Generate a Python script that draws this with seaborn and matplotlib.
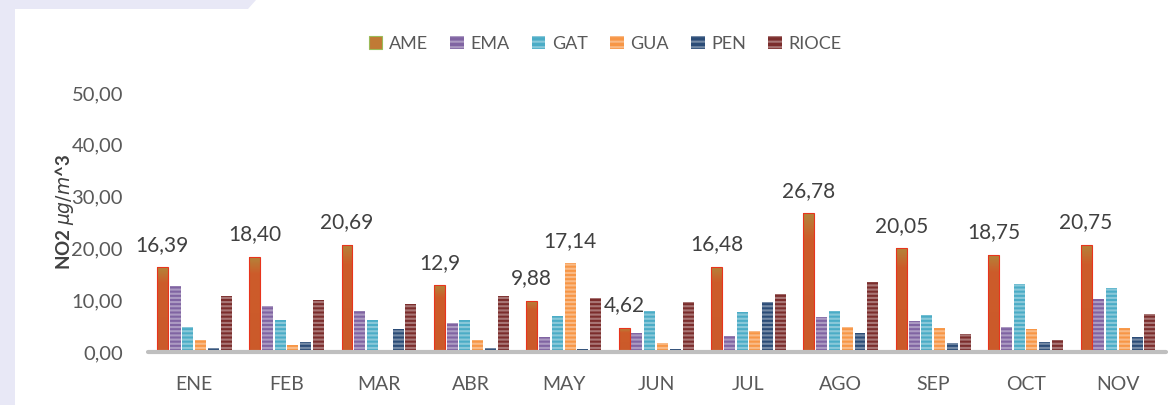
import numpy as np
import pandas as pd
import matplotlib
matplotlib.use("Agg")
import matplotlib.pyplot as plt
import seaborn as sns
from matplotlib.patches import Polygon, Patch
from matplotlib.colors import LinearSegmentedColormap

# Monthly NO2 concentration per monitoring station
months = ["ENE", "FEB", "MAR", "ABR", "MAY", "JUN", "JUL", "AGO", "SEP", "OCT", "NOV"]
stations = ["AME", "EMA", "GAT", "GUA", "PEN", "RIOCE"]
ame = [16.39, 18.40, 20.69, 12.9, 9.88, 4.62, 16.48, 26.78, 20.05, 18.75, 20.75]
ema = [12.7, 8.9, 8.0, 5.6, 2.9, 3.6, 3.0, 6.8, 6.05, 4.8, 10.2]
gat = [4.8, 6.1, 6.1, 6.1, 6.95, 7.9, 7.7, 7.9, 7.2, 13.1, 12.4]
gua = [2.4, 1.35, 0.0, 2.4, 17.14, 1.7, 4.1, 4.8, 4.6, 4.4, 4.6]
pen = [0.8, 2.0, 4.4, 0.8, 0.6, 0.6, 9.6, 3.6, 1.8, 2.0, 2.9]
rioce = [10.75, 10.0, 9.2, 10.9, 10.5, 9.7, 11.2, 13.5, 3.4, 2.4, 7.3]
ame_labels = ["16,39", "18,40", "20,69", "12,9", "9,88", "4,62",
              "16,48", "26,78", "20,05", "18,75", "20,75"]
gua_label_month = "MAY"
gua_label = "17,14"
yticks = [0, 10, 20, 30, 40, 50]
ytick_labels = ["0,00", "10,00", "20,00", "30,00", "40,00", "50,00"]

colors = {"AME": "#cc5a2b", "EMA": "#8064a2", "GAT": "#4bacc6",
          "GUA": "#f79646", "PEN": "#2b4c77", "RIOCE": "#7b2d2c"}

series = {"AME": ame, "EMA": ema, "GAT": gat, "GUA": gua, "PEN": pen, "RIOCE": rioce}
df = pd.DataFrame([
    {"month": m, "station": s, "value": v}
    for s in stations for m, v in zip(months, series[s])
])

sns.set_theme(style="white")
plt.rcParams["font.family"] = ["Lato", "DejaVu Sans"]
plt.rcParams["hatch.linewidth"] = 1.5

W, H = 1173, 405
fig = plt.figure(figsize=(W / 100, H / 100), dpi=100)
fig.patch.set_facecolor("white")

# lavender frame on the left and top-left
frame = Polygon([(0, 0), (15 / W, 0), (15 / W, 1 - 9 / H), (248 / W, 1 - 9 / H),
                 (256 / W, 1), (0, 1)], closed=True, transform=fig.transFigure,
                facecolor="#e8e8f6", edgecolor="none", zorder=0)
fig.patches.append(frame)

ax = fig.add_axes([148 / W, 1 - 352 / H, (1166 - 148) / W, (352 - 93) / H])
ax.set_facecolor("none")

sns.barplot(data=df, x="month", y="value", hue="station", hue_order=stations,
            order=months, palette=colors, width=0.83, gap=0.14, saturation=1,
            legend=False, ax=ax)

stripe = (1, 1, 1, 0.35)
for s, cont in zip(stations, ax.containers):
    for p in cont.patches:
        if s == "AME":
            p.set_edgecolor("#e8341c")
            p.set_linewidth(0.8)
        else:
            p.set_edgecolor(stripe)
            p.set_linewidth(0)
            p.set_hatch("----")

# olive-to-orange shading on the AME bars
grad_cmap = LinearSegmentedColormap.from_list(
    "ame", [(0.0, "#cb5a2a"), (0.82, "#cd5c2a"), (1.0, "#b3843a")])
grad = np.linspace(0, 1, 100).reshape(-1, 1)
for p in ax.containers[0].patches:
    x0, y0 = p.get_x(), p.get_y()
    w, h = p.get_width(), p.get_height()
    im = ax.imshow(grad, extent=[x0, x0 + w, y0, y0 + h], origin="lower",
                   aspect="auto", cmap=grad_cmap, zorder=p.get_zorder() - 0.1)
    im.set_clip_path(p)
    p.set_facecolor("none")
    p.set_zorder(p.get_zorder() + 0.2)

ax.set_xlim(-0.5, len(months) - 0.48)
ax.set_ylim(0, 50)

# value labels
for p, txt in zip(ax.containers[0].patches, ame_labels):
    ax.annotate(txt, (p.get_x() + p.get_width() / 2, p.get_height()),
                xytext=(0, 9), textcoords="offset points", ha="center", va="bottom",
                fontsize=15, color="#404040")
gp = ax.containers[stations.index("GUA")].patches[months.index(gua_label_month)]
ax.annotate(gua_label, (gp.get_x() + gp.get_width() / 2, gp.get_height()),
            xytext=(0, 9), textcoords="offset points", ha="center", va="bottom",
            fontsize=15, color="#404040")

sns.despine(ax=ax, left=True, bottom=True)
ax.axhline(0, color="#bfbfbf", lw=3, zorder=5, clip_on=False)
ax.set_yticks(yticks)
ax.set_yticklabels(ytick_labels, fontsize=14.5, color="#595959")
ax.tick_params(axis="y", length=0, pad=18)
ax.tick_params(axis="x", length=0, pad=17, labelsize=14, labelcolor="#595959")
ax.set_xlabel("")
ax.set_ylabel("")
ax.grid(False)

fig.text(65 / W, 1 - 212 / H, r"NO2 $\mu g/m$^3", rotation=90, ha="center",
         va="center", fontsize=13.5, fontweight="bold", color="#404040")

handles = [Patch(facecolor=colors[s], edgecolor=("#9bbb59" if s == "AME" else stripe),
                 linewidth=(0.8 if s == "AME" else 0),
                 hatch=(None if s == "AME" else "---")) for s in stations]
handles[0].set_facecolor("#c07a35")
fig.legend(handles, stations, loc="center", bbox_to_anchor=(605 / W, 1 - 44 / H),
           ncol=6, frameon=False, handlelength=0.75, handleheight=0.75,
           columnspacing=1.25, handletextpad=0.35, fontsize=13,
           labelcolor="#595959")

fig.savefig("out.png", dpi=100, facecolor="white")
